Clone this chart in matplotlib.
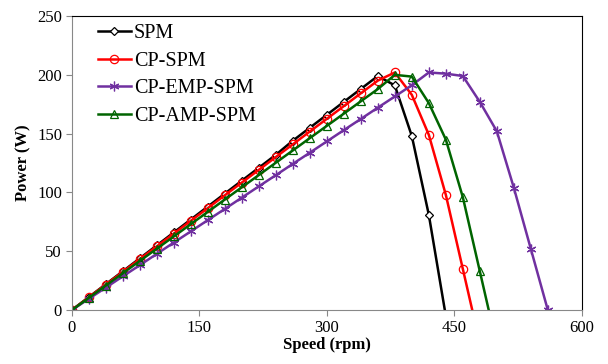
import numpy as np
import matplotlib
matplotlib.use('Agg')
import matplotlib.pyplot as plt

plt.rcParams['font.family'] = ['Liberation Serif', 'DejaVu Serif']

# speed (rpm) for each series
speed_spm = [0, 20, 40, 60, 80, 100, 120, 140, 160, 180, 200, 220, 240, 260, 280, 300, 320, 340, 360,
             380, 400, 420, 440]
speed_cp = [0, 20, 40, 60, 80, 100, 120, 140, 160, 180, 200, 220, 240, 260, 280, 300, 320, 340, 360,
            380, 400, 420, 440, 460, 480]
speed_emp = [0, 20, 40, 60, 80, 100, 120, 140, 160, 180, 200, 220, 240, 260, 280, 300, 320, 340, 360,
             380, 400, 420, 440, 460, 480, 500, 520, 540, 560]
speed_amp = [0, 20, 40, 60, 80, 100, 120, 140, 160, 180, 200, 220, 240, 260, 280, 300, 320, 340, 360,
             380, 400, 420, 440, 460, 480, 500]

# power (W)
power_spm = [0, 11, 22, 33, 44, 55, 66, 77, 88, 99, 110, 121, 132, 144, 155, 166, 177, 188, 199,
             191, 148, 81, -5]
power_cp = [0, 10.8, 21.7, 32.5, 43.4, 54.2, 65, 75.9, 86.7, 97.6, 108.4, 119.2, 130.1, 140.9, 151.8,
            162.6, 173.4, 184.3, 195.1, 202, 183, 149, 98, 35, -28]
power_emp = [0, 9.6, 19.1, 28.7, 38.2, 47.8, 57.4, 66.9, 76.5, 86, 95.6, 105.2, 114.7, 124.3, 133.8,
             143.4, 153, 162.5, 172.1, 181.6, 191.2, 202, 201, 199, 177, 152, 104, 52, 0]
power_amp = [0, 10.4, 20.9, 31.3, 41.8, 52.2, 62.6, 73.1, 83.5, 94, 104.4, 114.8, 125.3, 135.7, 146.2,
             156.6, 167, 177.5, 187.9, 200, 198.5, 176, 145, 96, 33, -30]

labels = ['SPM', 'CP-SPM', 'CP-EMP-SPM', 'CP-AMP-SPM']

fig = plt.figure(figsize=(6.08, 3.64), dpi=100)
ax = fig.add_axes([0.118, 0.148, 0.839, 0.808])

ax.plot(speed_spm, power_spm, color='black', lw=1.8, marker='D', ms=4,
        mfc='white', mec='black', mew=0.9, label=labels[0])
ax.plot(speed_cp, power_cp, color='#FF0000', lw=1.8, marker='o', ms=6,
        mfc='none', mec='#FF0000', mew=0.9, label=labels[1])
ax.plot(speed_emp, power_emp, color='#7030A0', lw=1.8, marker=(6, 2, 0), ms=7,
        mec='#7030A0', mew=0.9, label=labels[2])
ax.plot(speed_amp, power_amp, color='#006400', lw=1.8, marker='^', ms=6,
        mfc='none', mec='#006400', mew=0.9, label=labels[3])

ax.set_xlim(0, 600)
ax.set_ylim(0, 250)
ax.set_xticks([0, 150, 300, 450, 600])
ax.set_yticks([0, 50, 100, 150, 200, 250])

for s in ['left', 'bottom']:
    ax.spines[s].set_color('#888888')
for s in ['top', 'right']:
    ax.spines[s].set_color('black')
ax.tick_params(direction='out', length=4, color='#888888', labelsize=12, pad=3)

ax.set_xlabel('Speed (rpm)', fontsize=12, fontweight='bold', labelpad=1)
ax.set_ylabel('Power (W)', fontsize=12, fontweight='bold', labelpad=4)

ax.legend(loc='upper left', frameon=False, fontsize=14.5, handlelength=1.65,
          handletextpad=0.15, labelspacing=0.42, borderaxespad=0.0,
          bbox_to_anchor=(0.035, 1.0))

fig.savefig('out.png', dpi=100)
